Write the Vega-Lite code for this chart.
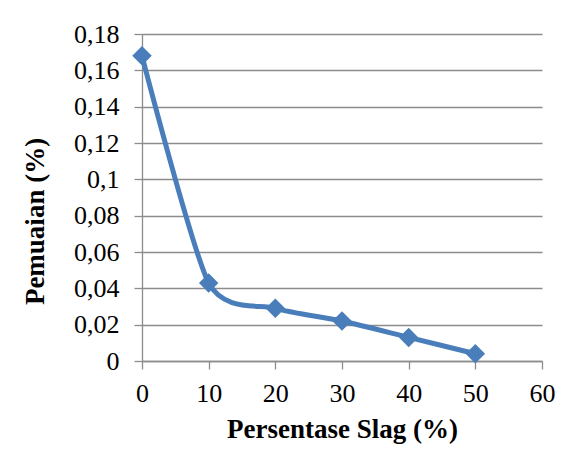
{
  "$schema": "https://vega.github.io/schema/vega-lite/v6.json",
  "width": 400,
  "height": 327,
  "autosize": "none",
  "padding": {"left": 142, "top": 34, "right": 35, "bottom": 110},
  "background": "white",
  "config": {
    "view": {"stroke": null},
    "font": "Liberation Serif",
    "axis": {
      "labelFont": "Liberation Serif",
      "titleFont": "Liberation Serif",
      "labelFontSize": 26,
      "titleFontSize": 27,
      "labelColor": "black",
      "titleColor": "black",
      "domainColor": "#8c8c8c",
      "tickColor": "#8c8c8c",
      "gridColor": "#8c8c8c",
      "domainWidth": 1.3,
      "tickWidth": 1.3,
      "gridWidth": 1.3,
      "tickSize": 8,
      "titleFontWeight": "bold"
    }
  },
  "data": {
    "values": [
      {"slag": 0, "pemuaian": 0.168},
      {"slag": 10, "pemuaian": 0.043},
      {"slag": 20, "pemuaian": 0.029},
      {"slag": 30, "pemuaian": 0.022},
      {"slag": 40, "pemuaian": 0.013},
      {"slag": 50, "pemuaian": 0.004}
    ]
  },
  "encoding": {
    "x": {
      "field": "slag",
      "type": "quantitative",
      "scale": {"domain": [0, 60], "nice": false},
      "axis": {
        "title": "Persentase Slag (%)",
        "values": [0, 10, 20, 30, 40, 50, 60],
        "grid": false,
        "labelPadding": 11,
        "titlePadding": 10,
        "labelFlush": false
      }
    },
    "y": {
      "field": "pemuaian",
      "type": "quantitative",
      "scale": {"domain": [0, 0.18], "nice": false},
      "axis": {
        "title": "Pemuaian (%)",
        "values": [0, 0.02, 0.04, 0.06, 0.08, 0.1, 0.12, 0.14, 0.16, 0.18],
        "labelExpr": "replace(format(datum.value, '~g'), '.', ',')",
        "labelPadding": 15,
        "titlePadding": 24,
        "titleY": 187,
        "labelFlush": false
      }
    }
  },
  "layer": [
    {
      "mark": {"type": "line", "interpolate": "cardinal", "tension": 0.3, "color": "#4a7ebb", "strokeWidth": 5}
    },
    {
      "mark": {"type": "point", "shape": "diamond", "filled": true, "color": "#4a7ebb", "opacity": 1, "size": 380}
    }
  ]
}
